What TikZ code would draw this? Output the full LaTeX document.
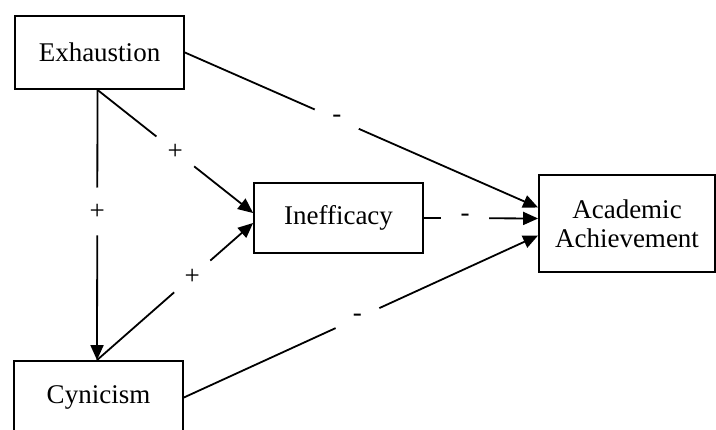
\documentclass[tikz,border=0pt]{standalone}
\usepackage{fontspec}
\setmainfont{Liberation Serif}
\usetikzlibrary{arrows.meta}

\begin{document}
\begin{tikzpicture}[x=1pt,y=-1pt,
        box/.style={draw,line width=1.8pt,align=center,inner sep=0pt},
        path/.style={line width=1.8pt,-{Triangle[length=15pt,width=13pt]}},
        lbl/.style={circle,fill=white,minimum size=48pt,inner sep=0pt}]
        \useasboundingbox (0,0) rectangle (716,430);
        \fontsize{27}{29}\selectfont

        \node[box,minimum width=169pt,minimum height=73pt] (exh) at (99.5,52.5) {Exhaustion};
        \node[box,minimum width=169pt,minimum height=73pt] (cyn) at (98.5,397.5) {Cynicism};
        \node[box,minimum width=169pt,minimum height=70pt] (ineff) at (338.5,218) {Inefficacy};
        \node[box,minimum width=176pt,minimum height=97pt] (acad) at (627,223.5) {Academic\\Achievement};

        \draw[path] ([xshift=-2pt]exh.south) -- ([xshift=-1.5pt]cyn.north) node[lbl,pos=0.45] {+};
        \draw[path] ([xshift=-2pt]exh.south) -- ([yshift=5pt]ineff.west) node[lbl,pos=0.5] {+};
        \draw[path] ([xshift=-1.5pt]cyn.north) -- ([yshift=-5pt]ineff.west) node[lbl,pos=0.61] {+};
        \draw[path] (exh.east) -- ([yshift=16pt]acad.west) node[lbl,pos=0.43] {-};
        \draw[path] (ineff.east) -- ([yshift=5pt]acad.west) node[lbl,pos=0.36] {-};
        \draw[path] (cyn.east) -- ([yshift=-12pt]acad.west) node[lbl,pos=0.49] {-};
\end{tikzpicture}
\end{document}
